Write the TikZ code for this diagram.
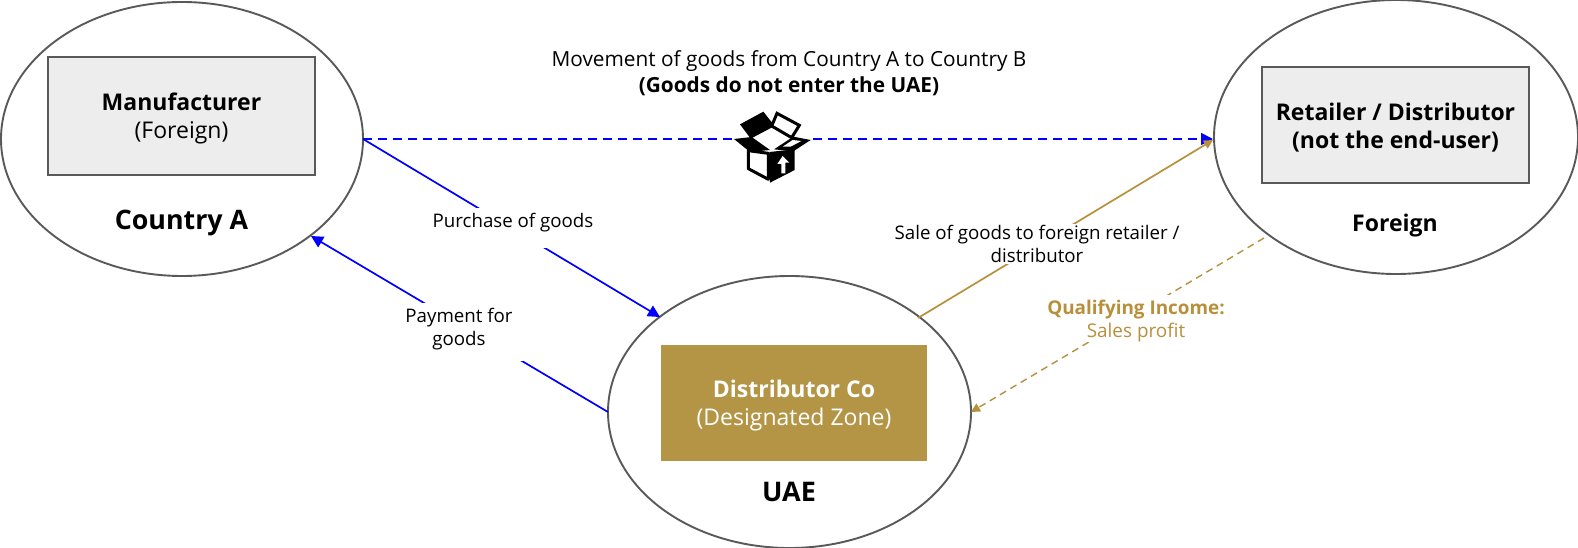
\documentclass[tikz,border=0pt]{standalone}
\usepackage{fontspec}
\setmainfont{Open Sans}
\usetikzlibrary{arrows.meta,shapes.geometric}
\definecolor{goldline}{HTML}{B8903C}
\definecolor{goldfill}{HTML}{B39545}
\definecolor{greyline}{HTML}{595959}
\definecolor{greyfill}{HTML}{EDEDED}
\definecolor{flowblue}{HTML}{0000FF}
\newcommand{\ls}[2]{\fontsize{#1}{#2}\selectfont}
\tikzset{
  region/.style={ellipse,draw=greyline,line width=1.9pt,fill=white,inner sep=0pt,outer sep=0pt},
  entity/.style={rectangle,draw=greyline,line width=1.9pt,fill=greyfill,inner sep=0pt},
  goldentity/.style={rectangle,fill=goldfill,inner sep=0pt},
  entitytext/.style={inner sep=0pt,align=center,font=\ls{23}{28}},
  caption/.style={inner sep=0pt,align=center,text=black},
  flowlabel/.style={fill=white,inner sep=0pt,align=center,text=black,font=\ls{18.7}{23}},
  blueflow/.style={draw=flowblue,line width=1.7pt,-{Triangle[length=12pt,width=12pt]}},
  goldflow/.style={draw=goldline,line width=1.7pt,-{Triangle[length=9pt,width=9pt]}},
}
\begin{document}
\begin{tikzpicture}[x=1pt,y=-1pt]
\useasboundingbox (0,0) rectangle (1578,548);

% Regions
\node[region,minimum width=362pt,minimum height=274pt] (countrya) at (182,139) {};
\node[region,minimum width=363pt,minimum height=272pt] (uae) at (789.5,412) {};
\node[region,minimum width=364pt,minimum height=274pt] (foreign) at (1396,137) {};

% Parties inside the regions
\node[entity,minimum width=267pt,minimum height=118pt] (maker) at (181.5,116) {};
\node[entity,minimum width=267pt,minimum height=116pt] (retailer) at (1395.5,125) {};
\node[goldentity,minimum width=266pt,minimum height=116pt] (zoneco) at (794,403) {};
\node[entitytext,text=black] (makerText) at (181.5,118) {\textbf{Manufacturer}\\(Foreign)};
\node[entitytext,text=black] (retailerText) at (1395.5,128) {\textbf{Retailer / Distributor}\\\textbf{(not the end-user)}};
\node[entitytext,text=white] (zonecoText) at (794,406) {\textbf{Distributor Co}\\(Designated Zone)};

\node[caption,font=\ls{26.8}{30}] (lblA) at (181.5,223.5) {\textbf{Country A}};
\node[caption,font=\ls{23}{28}] (lblF) at (1395,226) {\textbf{Foreign}};
\node[caption,font=\ls{27}{30}] (lblU) at (789,492) {\textbf{UAE}};

% Named ends of the flows, on the region outlines
\coordinate (aEast) at (363,139);
\coordinate (aLow) at (311,236);
\coordinate (fWest) at (1213,139);
\coordinate (fWestB) at (1213,140);
\coordinate (fLow) at (1264,238);
\coordinate (uNW) at (660,317);
\coordinate (uWest) at (608,412);
\coordinate (uNE) at (918,318);
\coordinate (uEast) at (971,412);

% Flows
\draw[blueflow,dashed,dash pattern=on 9pt off 6pt] (aEast) -- (fWest);
\draw[blueflow] (aEast) -- (uNW);
\draw[blueflow] (uWest) -- (aLow);
\draw[goldflow] (uNE) -- (fWestB);
\draw[goldflow,line width=1.4pt,dash pattern=on 7pt off 5pt] (fLow) -- (uEast);

% Flow labels sit on a white patch that interrupts the line
\node[flowlabel,minimum width=170pt,minimum height=40pt] (purchase) at (513,228) {\raisebox{15pt}{Purchase of goods}};
\node[flowlabel,minimum width=130pt,minimum height=58pt] (payment) at (459,332) {\raisebox{-1.5pt}[0pt][0pt]{\begin{tabular}{@{}c@{}}Payment for\\goods\end{tabular}}};
\node[flowlabel,minimum width=292pt,minimum height=40pt] (sale) at (1037,243.5) {Sale of goods to foreign retailer /\\distributor};
\node[flowlabel,minimum width=190pt,minimum height=47pt] (incomePatch) at (1136,318.5) {};
\node[caption,text=goldline,font=\ls{18.9}{23}] (income) at (1136,321.5) {\textbf{Qualifying Income:}\\Sales profit};

\node[caption,font=\ls{20.8}{26}] (movement) at (789,73) {Movement of goods from Country A to Country B\\\textbf{(Goods do not enter the UAE)}};

% Open carton standing on the dashed line
\begin{scope}[shift={(700,90)},x=.3333pt,y=-.3333pt]
  \fill[white] (100,147) -- (120,103) -- (190,65) -- (300,105) -- (332,150) -- (285,180) -- (285,240) -- (210,278) -- (138,240) -- (138,175) -- cycle;
  % far flaps
  \fill[black] (120,103) -- (190,65) -- (224,108) -- (152,146) -- cycle;
  \draw[black,line width=3pt,fill=white] (231,70) -- (298,106) -- (275,143) -- (215,108) -- cycle;
  % near flaps
  \fill[black] (102,147) -- (155,141) -- (210,180) -- (150,186) -- cycle;
  \fill[black] (280,140) -- (332,150) -- (280,184) -- (222,178) -- cycle;
  \fill[white] (278,150) -- (304,153) -- (272,170) -- (248,170) -- cycle;
  % sides of the carton
  \draw[black,line width=3pt,fill=white,line join=round] (145,182) -- (205,190) -- (205,268) -- (145,236) -- cycle;
  \fill[black] (208,186) -- (284,178) -- (284,240) -- (210,278) -- cycle;
  % arrow printed on the side
  \fill[white] (248,198) -- (268,218) -- (256,218) -- (256,250) -- (244,250) -- (244,222) -- (232,222) -- cycle;
\end{scope}
\end{tikzpicture}
\end{document}
